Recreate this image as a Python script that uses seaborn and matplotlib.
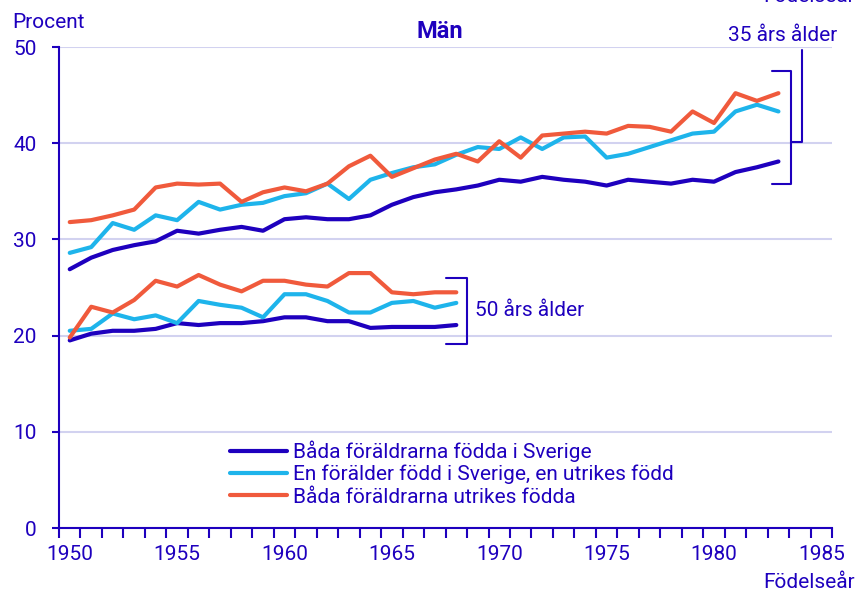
import seaborn as sns
import pandas as pd
import matplotlib.pyplot as plt
from matplotlib.ticker import MultipleLocator

sns.set_theme(style="white")
plt.rcParams['font.family'] = ['Roboto', 'DejaVu Sans']

years_35 = list(range(1950, 1984))
years_50 = list(range(1950, 1969))

# 35 års ålder
sverige_35 = [26.9, 28.1, 28.9, 29.4, 29.8, 30.9, 30.6, 31.0, 31.3, 30.9,
              32.1, 32.3, 32.1, 32.1, 32.5, 33.6, 34.4, 34.9, 35.2, 35.6,
              36.2, 36.0, 36.5, 36.2, 36.0, 35.6, 36.2, 36.0, 35.8, 36.2,
              36.0, 37.0, 37.5, 38.1]
en_utrikes_35 = [28.6, 29.2, 31.7, 31.0, 32.5, 32.0, 33.9, 33.1, 33.6, 33.8,
                 34.5, 34.8, 35.8, 34.2, 36.2, 36.9, 37.5, 37.8, 38.8, 39.6,
                 39.4, 40.6, 39.4, 40.6, 40.7, 38.5, 38.9, 39.6, 40.3, 41.0,
                 41.2, 43.3, 44.0, 43.3]
utrikes_35 = [31.8, 32.0, 32.5, 33.1, 35.4, 35.8, 35.7, 35.8, 33.9, 34.9,
              35.4, 35.0, 35.8, 37.6, 38.7, 36.5, 37.4, 38.3, 38.9, 38.1,
              40.2, 38.5, 40.8, 41.0, 41.2, 41.0, 41.8, 41.7, 41.2, 43.3,
              42.1, 45.2, 44.4, 45.2]

# 50 års ålder
sverige_50 = [19.5, 20.2, 20.5, 20.5, 20.7, 21.3, 21.1, 21.3, 21.3, 21.5,
              21.9, 21.9, 21.5, 21.5, 20.8, 20.9, 20.9, 20.9, 21.1]
en_utrikes_50 = [20.5, 20.7, 22.3, 21.7, 22.1, 21.3, 23.6, 23.2, 22.9, 21.9,
                 24.3, 24.3, 23.6, 22.4, 22.4, 23.4, 23.6, 22.9, 23.4]
utrikes_50 = [19.8, 23.0, 22.4, 23.7, 25.7, 25.1, 26.3, 25.3, 24.6, 25.7,
              25.7, 25.3, 25.1, 26.5, 26.5, 24.5, 24.3, 24.5, 24.5]

labels = ["Båda föräldrarna födda i Sverige",
          "En förälder född i Sverige, en utrikes född",
          "Båda föräldrarna utrikes födda"]
colors = ["#1E00BE", "#1EB4EB", "#F05A3C"]
text_color = "#1E00BE"

rows = []
for lab, v35, v50 in zip(labels, [sverige_35, en_utrikes_35, utrikes_35],
                         [sverige_50, en_utrikes_50, utrikes_50]):
    for y, v in zip(years_35, v35):
        rows.append({"År": y, "Procent": v, "Grupp": lab, "Ålder": "35"})
    for y, v in zip(years_50, v50):
        rows.append({"År": y, "Procent": v, "Grupp": lab, "Ålder": "50"})
df = pd.DataFrame(rows)

fig = plt.figure(figsize=(8.59, 5.92), dpi=100)
ax = fig.add_axes([0.0687, 0.1081, 0.9, 0.8125])

sns.lineplot(data=df, x="År", y="Procent", hue="Grupp", units="Ålder",
             estimator=None, palette=dict(zip(labels, colors)),
             hue_order=labels, linewidth=3, ax=ax, legend=True)

ax.set_xlim(1949.5, 1985.5)
ax.set_ylim(0, 50)
ax.set_xlabel("")
ax.set_ylabel("")
ax.xaxis.set_major_locator(MultipleLocator(5))
ax.xaxis.set_minor_locator(MultipleLocator(1, offset=0.5))
ax.yaxis.set_major_locator(MultipleLocator(10))
ax.tick_params(axis='x', which='major', length=0, pad=12,
               labelsize=15, labelcolor=text_color)
ax.tick_params(axis='x', which='minor', length=7, width=1.5,
               color=text_color, direction='out', bottom=True)
ax.tick_params(axis='y', length=5, width=1.5, color=text_color, left=True,
               pad=11, labelsize=15, labelcolor=text_color)
ax.grid(axis='y', color="#D2D2F0", linewidth=1.5)
ax.set_axisbelow(True)
for side in ["top", "right"]:
    ax.spines[side].set_visible(False)
for side in ["left", "bottom"]:
    ax.spines[side].set_color(text_color)
    ax.spines[side].set_linewidth(1.5)

handles, labs = ax.get_legend_handles_labels()
leg = ax.legend(handles, labs, loc="upper left",
                bbox_to_anchor=(222 / 859, 1 - 432 / 592),
                bbox_transform=fig.transFigure, frameon=False,
                fontsize=15, handlelength=2.7, handletextpad=0.3,
                labelspacing=0.15, borderaxespad=0)
for t in leg.get_texts():
    t.set_color(text_color)

# brackets
kw = dict(color=text_color, linewidth=1.5, clip_on=False)
ax.plot([1982.7, 1983.6, 1983.6, 1982.7], [47.5, 47.5, 35.8, 35.8], **kw)
ax.plot([1983.6, 1984.1, 1984.1], [40.1, 40.1, 49.7], **kw)
ax.text(1983.2, 51.2, "35 års ålder", ha="center", va="center",
        fontsize=15, color=text_color, clip_on=False)
ax.plot([1967.5, 1968.5, 1968.5, 1967.5], [26.0, 26.0, 19.1, 19.1], **kw)
ax.text(1968.85, 22.6, "50 års ålder", ha="left", va="center",
        fontsize=15, color=text_color)

fig.text(440 / 859, 1 - 32 / 592, "Män", ha="center", va="center",
         fontsize=17, fontweight="bold", color=text_color)
fig.text(12 / 859, 1 - 22 / 592, "Procent", ha="left", va="center",
         fontsize=15, color=text_color)
fig.text(855 / 859, 1 - 582 / 592, "Födelseår", ha="right", va="center",
         fontsize=15, color=text_color)
# partly cut off at the top edge, as in the original
fig.text(855 / 859, 1 + 3 / 592, "Födelseår", ha="right", va="center",
         fontsize=15, color=text_color)

fig.savefig("out.png", dpi=100)
